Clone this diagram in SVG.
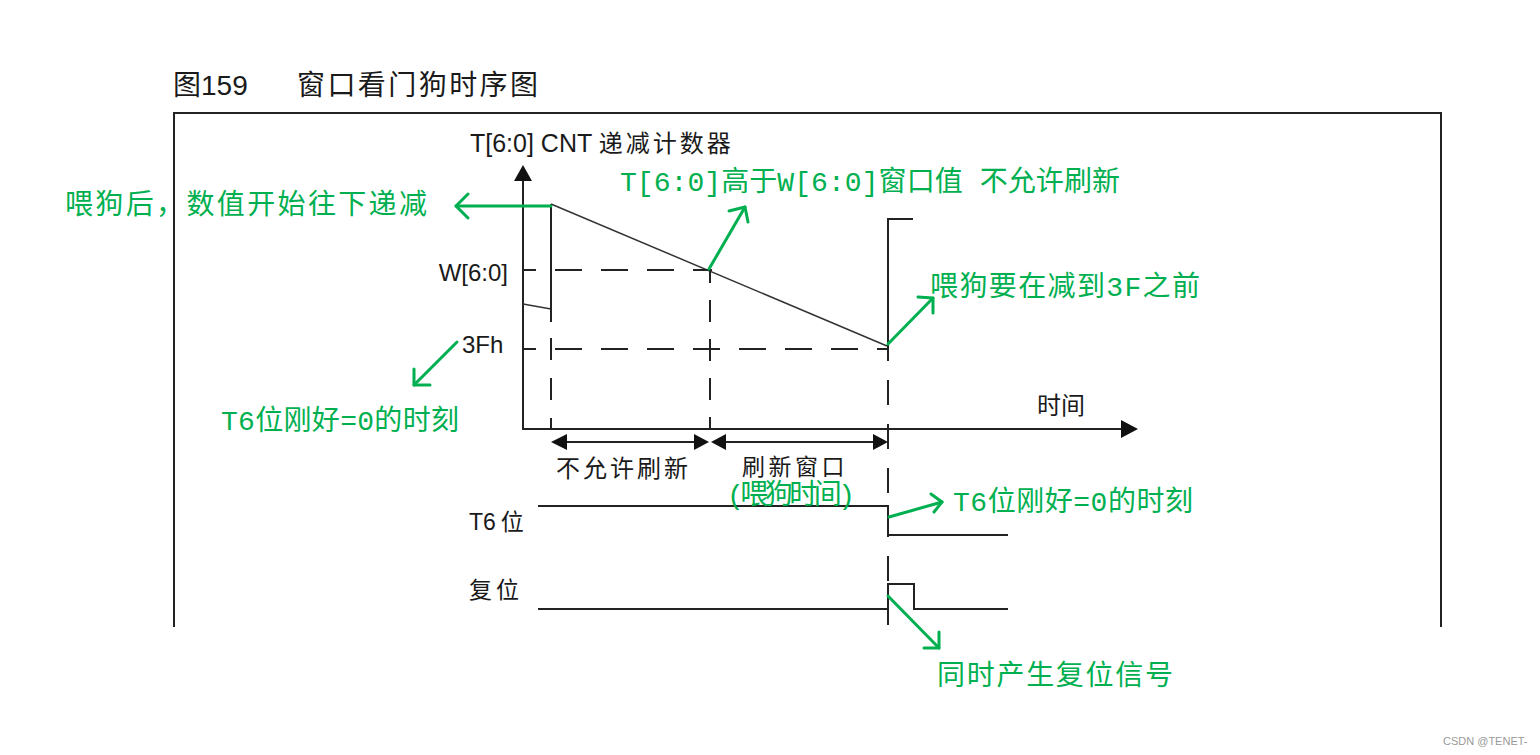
<svg xmlns="http://www.w3.org/2000/svg" width="1540" height="755" viewBox="0 0 1540 755">
  <defs>
    <style>
      .blk { fill: #1a1a1a; font-family: "Liberation Sans", "Noto Sans CJK SC", sans-serif; }
      .cjk { fill: #1a1a1a; font-family: "Noto Sans CJK SC", sans-serif; }
      .grn { fill: #00b050; font-family: "Liberation Mono", "Noto Sans CJK SC", monospace; font-size: 28px; }
      .ln { stroke: #222; fill: none; stroke-width: 2; }
      .thin { stroke: #333; fill: none; stroke-width: 1.5; }
      .dash { stroke: #222; fill: none; stroke-width: 2; }
      .garr { stroke: #00b050; fill: none; stroke-width: 3; stroke-linecap: round; stroke-linejoin: round; }
      .tri { fill: #111; }
    </style>
  </defs>
  <rect width="1540" height="755" fill="#ffffff"/>

  <g id="title">
    <text class="blk" x="173" y="95" font-size="28"><tspan class="cjk">图</tspan>159</text>
    <text class="cjk" x="297" y="95" font-size="28" textLength="241" lengthAdjust="spacing">窗口看门狗时序图</text>
  </g>

  <g id="frame">
    <path class="ln" d="M174,627 V113 H1441 V627"/>
  </g>

  <g id="axes">
    <line class="ln" x1="523" y1="430" x2="523" y2="178"/>
    <polygon class="tri" points="523,165 514,181 532,181"/>
    <line class="ln" x1="523" y1="429" x2="1125" y2="429"/>
    <polygon class="tri" points="1138,429 1121,420 1121,438"/>
    <text class="blk" x="470" y="152" font-size="25">T[6:0] CNT <tspan class="cjk" font-size="24" letter-spacing="3">递减计数器</tspan></text>
    <text class="cjk" x="1037" y="414" font-size="24">时间</text>
    <text class="blk" x="508" y="281" font-size="24" text-anchor="end">W[6:0]</text>
    <text class="blk" x="462" y="353" font-size="24">3Fh</text>
  </g>

  <g id="counter">
    <line class="thin" x1="523" y1="304" x2="551" y2="309"/>
    <line class="ln" x1="551" y1="204" x2="551" y2="322"/>
    <line class="thin" x1="551" y1="204" x2="887" y2="346"/>
    <polyline class="ln" points="888,349 888,219 913,219"/>
  </g>

  <g id="guides">
    <line class="dash" x1="523" y1="270" x2="712" y2="270" stroke-dasharray="27 19" stroke-dashoffset="14"/>
    <line class="dash" x1="523" y1="349" x2="888" y2="349" stroke-dasharray="27 19" stroke-dashoffset="14"/>
    <line class="dash" x1="551" y1="338" x2="551" y2="430" stroke-dasharray="22 18"/>
    <line class="dash" x1="710" y1="270" x2="710" y2="430" stroke-dasharray="22 17" stroke-dashoffset="9"/>
    <line class="dash" x1="888" y1="349" x2="888" y2="625" stroke-dasharray="25 19" stroke-dashoffset="13"/>
  </g>

  <g id="intervals">
    <line class="ln" x1="560" y1="442" x2="700" y2="442"/>
    <polygon class="tri" points="551,442 567,434 567,450"/>
    <polygon class="tri" points="709,442 694,434 694,450"/>
    <line class="ln" x1="720" y1="442" x2="878" y2="442"/>
    <polygon class="tri" points="711,442 726,434 726,450"/>
    <polygon class="tri" points="888,442 873,434 873,450"/>
    <text class="cjk" x="556" y="477" font-size="24" letter-spacing="3">不允许刷新</text>
    <text class="cjk" x="742" y="475" font-size="23" letter-spacing="3.5">刷新窗口</text>
  </g>

  <g id="t6-signal">
    <text class="blk" x="469" y="530" font-size="23">T6<tspan class="cjk" dx="5" font-size="23">位</tspan></text>
    <polyline class="ln" points="538,506 888,506 888,535 1008,535"/>
  </g>

  <g id="reset-signal">
    <text class="cjk" x="469" y="598" font-size="23" letter-spacing="4">复位</text>
    <polyline class="ln" points="538,609 888,609 888,584 914,584 914,609 1008,609"/>
  </g>

  <g id="annotations">
    <g id="note-feed">
      <text class="grn" x="65" y="214" textLength="362" lengthAdjust="spacing">喂狗后，数值开始往下递减</text>
    </g>
    <g id="note-above-w">
      <text class="grn" x="620" y="191" textLength="500" lengthAdjust="spacing">T[6:0]高于W[6:0]窗口值 不允许刷新</text>
    </g>
    <g id="note-before-3f">
      <text class="grn" x="930" y="296" textLength="270" lengthAdjust="spacing">喂狗要在减到3F之前</text>
    </g>
    <g id="note-t6-left">
      <text class="grn" x="221" y="430" textLength="238" lengthAdjust="spacing">T6位刚好=0的时刻</text>
    </g>
    <g id="note-feed-time">
      <text class="grn" x="727" y="504" font-size="23" textLength="128" lengthAdjust="spacing">(喂狗时间)</text>
    </g>
    <g id="note-t6-right">
      <text class="grn" x="953" y="511" textLength="240" lengthAdjust="spacing">T6位刚好=0的时刻</text>
    </g>
    <g id="note-reset">
      <text class="grn" x="937" y="685" textLength="236" lengthAdjust="spacing">同时产生复位信号</text>
    </g>
  </g>

  <g id="connectors">
    <line class="garr" x1="551" y1="206" x2="456" y2="206"/>
    <polyline class="garr" points="468,194 456,206 468,218"/>
    <line class="garr" x1="709" y1="269" x2="745" y2="207"/>
    <polyline class="garr" points="729,211 745,207 748,222"/>
    <line class="garr" x1="888" y1="344" x2="933" y2="298"/>
    <polyline class="garr" points="918,297 933,298 933,313"/>
    <line class="garr" x1="457" y1="342" x2="414" y2="385"/>
    <polyline class="garr" points="414,369 414,385 430,385"/>
    <line class="garr" x1="889" y1="517" x2="942" y2="502"/>
    <polyline class="garr" points="931,494 942,502 934,512"/>
    <line class="garr" x1="888" y1="596" x2="939" y2="648"/>
    <polyline class="garr" points="939,632 939,648 924,648"/>
  </g>

  <g id="watermark">
    <text x="1443" y="745" font-family="'Liberation Sans', sans-serif" font-size="11" fill="#999">CSDN @TENET-</text>
  </g>
</svg>
